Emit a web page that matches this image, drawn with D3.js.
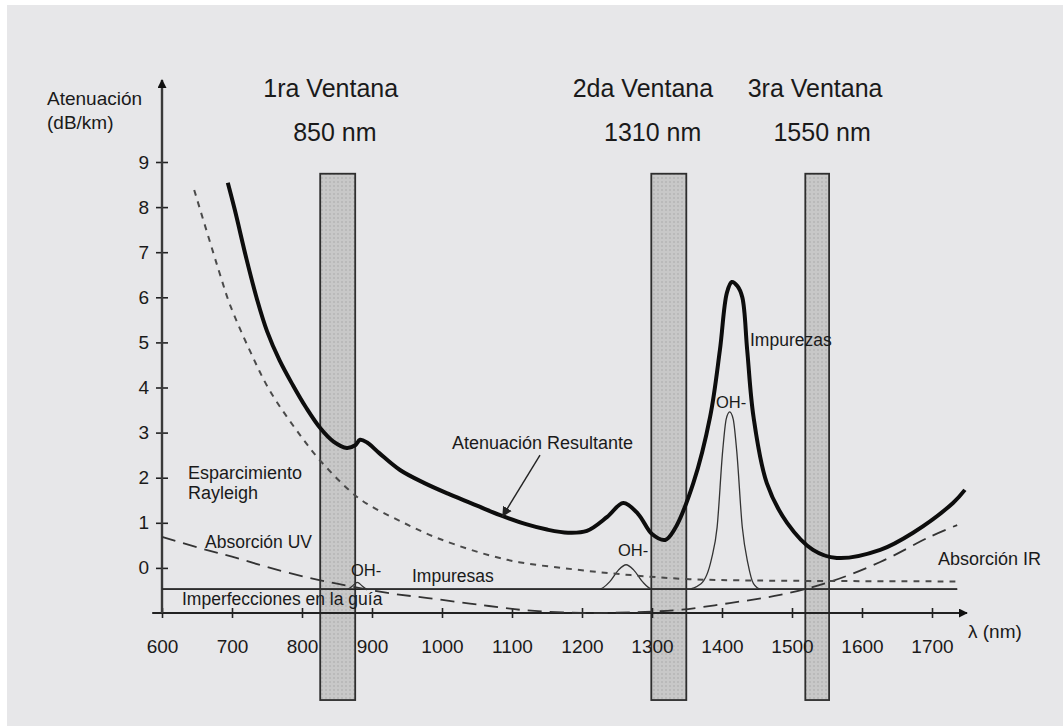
<!DOCTYPE html>
<html>
<head>
<meta charset="utf-8">
<script src="https://cdn.jsdelivr.net/npm/d3@7"></script>
<style>
  body { margin: 0; background: #fff; }
  text { font-family: "Liberation Sans", Arial, sans-serif; fill: #1a1a1a; }
</style>
</head>
<body>
<script>
// datos (lambda en nm, atenuacion en dB/km)
var xTicks = [600, 700, 800, 900, 1000, 1100, 1200, 1300, 1400, 1500, 1600, 1700];
var yTicks = [0, 1, 2, 3, 4, 5, 6, 7, 8, 9];

var ventanas = [[826, 876], [1299, 1349], [1519, 1553]];
var ventanaTitulos = ["1ra Ventana", "2da Ventana", "3ra Ventana"];
var ventanaNm = ["850 nm", "1310 nm", "1550 nm"];

var resultante = [
  [694, 8.54], [704, 7.94], [721, 6.83], [736, 5.94], [750, 5.25], [768, 4.6],
  [787, 4.05], [806, 3.55], [826, 3.1], [845, 2.8], [864, 2.66], [876, 2.72],
  [883, 2.84], [893, 2.78], [910, 2.55], [940, 2.17], [975, 1.88], [1011, 1.63],
  [1050, 1.38], [1083, 1.17], [1120, 0.97], [1150, 0.85], [1180, 0.78],
  [1207, 0.82], [1236, 1.13], [1259, 1.44], [1280, 1.2], [1300, 0.75],
  [1319, 0.62], [1332, 0.85], [1359, 1.88], [1383, 3.35], [1397, 4.83],
  [1407, 6.1], [1414, 6.34], [1422, 6.25], [1429, 6.0], [1436, 4.83],
  [1445, 3.35], [1464, 1.88], [1493, 1.0], [1530, 0.4], [1564, 0.22],
  [1626, 0.4], [1673, 0.78], [1730, 1.44], [1747, 1.73]
];

var rayleigh = [
  [646, 8.38], [683, 6.5], [697, 5.84], [726, 4.8], [754, 3.93], [797, 2.95],
  [826, 2.38], [869, 1.7], [893, 1.42], [940, 1.04], [997, 0.64], [1093, 0.18],
  [1187, -0.03], [1270, -0.16], [1354, -0.25], [1450, -0.28], [1736, -0.3]
];

var absorcionUvIr = [
  [600, 0.69], [654, 0.44], [700, 0.25], [750, 0.02], [810, -0.22], [850, -0.35],
  [920, -0.55], [980, -0.67], [1040, -0.79], [1080, -0.87], [1120, -0.94],
  [1200, -1.0], [1280, -0.98], [1340, -0.93], [1411, -0.78], [1483, -0.6],
  [1554, -0.31], [1626, 0.13], [1697, 0.69], [1736, 0.95]
];

var imperfecciones = [[600, -0.47], [1736, -0.47]];

var impurezas = [
  [600, -0.47], [865, -0.47], [872, -0.4], [879, -0.32], [886, -0.4], [893, -0.47],
  [1225, -0.47], [1240, -0.3], [1252, -0.05], [1263, 0.07], [1274, -0.05],
  [1286, -0.3], [1300, -0.47], [1350, -0.47], [1370, -0.35], [1385, 0.2],
  [1393, 0.9], [1401, 2.6], [1406, 3.3], [1411, 3.46], [1416, 3.3], [1421, 2.6],
  [1429, 0.9], [1437, 0.1], [1445, -0.35], [1455, -0.47], [1736, -0.47]
];

var W = 1063, H = 726;

var x = d3.scaleLinear().domain([600, 1700]).range([162, 932]);
var y = d3.scaleLinear().domain([-1, 9]).range([613, 162]);

var svg = d3.select("body").append("svg")
    .attr("width", W)
    .attr("height", H);

// fondo (papel gris)
svg.append("rect")
    .attr("x", 7).attr("y", 5)
    .attr("width", W - 7).attr("height", H - 5)
    .attr("fill", "#e7e7e9");

var defs = svg.append("defs");

var pat = defs.append("pattern")
    .attr("id", "puntos")
    .attr("width", 4).attr("height", 4)
    .attr("patternUnits", "userSpaceOnUse");
pat.append("rect").attr("width", 4).attr("height", 4).attr("fill", "#c8c8c8");
pat.append("circle").attr("cx", 2).attr("cy", 2).attr("r", 0.9).attr("fill", "#b4b4b4");

defs.append("marker")
    .attr("id", "flecha")
    .attr("viewBox", "0 0 10 10")
    .attr("refX", 9).attr("refY", 5)
    .attr("markerWidth", 9).attr("markerHeight", 9)
    .attr("markerUnits", "userSpaceOnUse")
    .attr("orient", "auto")
    .append("path")
    .attr("d", "M0,0 L10,5 L0,10 z")
    .attr("fill", "#111");

defs.append("marker")
    .attr("id", "punta")
    .attr("viewBox", "0 0 10 10")
    .attr("refX", 10).attr("refY", 5)
    .attr("markerWidth", 10).attr("markerHeight", 12)
    .attr("markerUnits", "userSpaceOnUse")
    .attr("orient", "auto")
    .append("path")
    .attr("d", "M0,0 L10,5 L0,10 z")
    .attr("fill", "#222");

// ventanas
svg.append("g").selectAll("rect")
    .data(ventanas)
    .join("rect")
    .attr("x", d => x(d[0]))
    .attr("width", d => x(d[1]) - x(d[0]))
    .attr("y", y(8.74))
    .attr("height", y(-2.93) - y(8.74))
    .attr("fill", "url(#puntos)")
    .attr("stroke", "#2e2e2e")
    .attr("stroke-width", 1.8);

// titulos de ventanas
var tx = [841, 1287, 1533], nx = [847, 1301, 1543];
svg.append("g").selectAll("text")
    .data(ventanaTitulos)
    .join("text")
    .attr("x", (d, i) => x(tx[i]))
    .attr("y", 97)
    .attr("text-anchor", "middle")
    .style("font-size", "25px")
    .text(d => d);
svg.append("g").selectAll("text")
    .data(ventanaNm)
    .join("text")
    .attr("x", (d, i) => x(nx[i]))
    .attr("y", 141)
    .attr("text-anchor", "middle")
    .style("font-size", "25px")
    .text(d => d);

// ejes
var ejeX = svg.append("g")
    .attr("transform", "translate(0," + y(-1) + ")")
    .call(d3.axisBottom(x).tickValues(xTicks).tickFormat(d3.format("d")).tickSize(5).tickPadding(22));
ejeX.select(".domain").remove();
ejeX.selectAll(".tick line").attr("y1", -5).attr("stroke", "#222").attr("stroke-width", 1.6);
ejeX.selectAll(".tick text").style("font-size", "19px").attr("fill", "#1a1a1a");

svg.append("line")
    .attr("x1", x(586)).attr("x2", x(1750))
    .attr("y1", y(-1)).attr("y2", y(-1))
    .attr("stroke", "#222").attr("stroke-width", 2.2)
    .attr("marker-end", "url(#flecha)");

var ejeY = svg.append("g")
    .attr("transform", "translate(" + x(600) + ",0)")
    .call(d3.axisLeft(y).tickValues(yTicks).tickSize(6).tickPadding(7));
ejeY.select(".domain").remove();
ejeY.selectAll(".tick line").attr("x1", 6).attr("stroke", "#222").attr("stroke-width", 1.6);
ejeY.selectAll(".tick text").style("font-size", "19px").attr("fill", "#1a1a1a");

svg.append("line")
    .attr("x1", x(600)).attr("x2", x(600))
    .attr("y1", y(-1)).attr("y2", y(10.82))
    .attr("stroke", "#3a3a3a").attr("stroke-width", 2.4)
    .attr("marker-end", "url(#flecha)");

// curvas
var suave = d3.line()
    .x(d => x(d[0]))
    .y(d => y(d[1]))
    .curve(d3.curveCatmullRom.alpha(0.5));

var mono = d3.line()
    .x(d => x(d[0]))
    .y(d => y(d[1]))
    .curve(d3.curveMonotoneX);

svg.append("path").datum(imperfecciones)
    .attr("d", mono).attr("fill", "none")
    .attr("stroke", "#222").attr("stroke-width", 1.8);

svg.append("path").datum(impurezas)
    .attr("d", mono).attr("fill", "none")
    .attr("stroke", "#333").attr("stroke-width", 1.3);

svg.append("path").datum(absorcionUvIr)
    .attr("d", suave).attr("fill", "none")
    .attr("stroke", "#333").attr("stroke-width", 1.8)
    .attr("stroke-dasharray", "14,8");

svg.append("path").datum(rayleigh)
    .attr("d", suave).attr("fill", "none")
    .attr("stroke", "#4a4a4a").attr("stroke-width", 2)
    .attr("stroke-dasharray", "6,6");

svg.append("path").datum(resultante)
    .attr("d", suave).attr("fill", "none")
    .attr("stroke", "#0d0d0d").attr("stroke-width", 4)
    .attr("stroke-linejoin", "round");

// flecha de la atenuacion resultante
svg.append("line")
    .attr("x1", x(1140)).attr("y1", y(2.5))
    .attr("x2", x(1086)).attr("y2", y(1.13))
    .attr("stroke", "#222").attr("stroke-width", 1.4)
    .attr("marker-end", "url(#punta)");

// textos
var etiquetas = [
  ["Atenuación", 47, 105, 19],
  ["(dB/km)", 47, 129, 19],
  ["Atenuación Resultante", 452, 449, 18],
  ["Esparcimiento", 188, 479, 18],
  ["Rayleigh", 188, 499, 18],
  ["Absorción UV", 205, 548, 17.5],
  ["OH-", 351, 576, 16.5],
  ["Impuresas", 412, 582, 17.5],
  ["Imperfecciones en la guía", 182, 605, 17.5],
  ["OH-", 618, 556, 16.5],
  ["OH-", 716, 408, 16.5],
  ["Impurezas", 750, 346, 17.5],
  ["Absorción IR", 938, 565, 18],
  ["λ (nm)", 968, 638, 19]
];
svg.append("g").selectAll("text")
    .data(etiquetas)
    .join("text")
    .attr("x", d => d[1])
    .attr("y", d => d[2])
    .style("font-size", d => d[3] + "px")
    .text(d => d[0]);
</script>
</body>
</html>
